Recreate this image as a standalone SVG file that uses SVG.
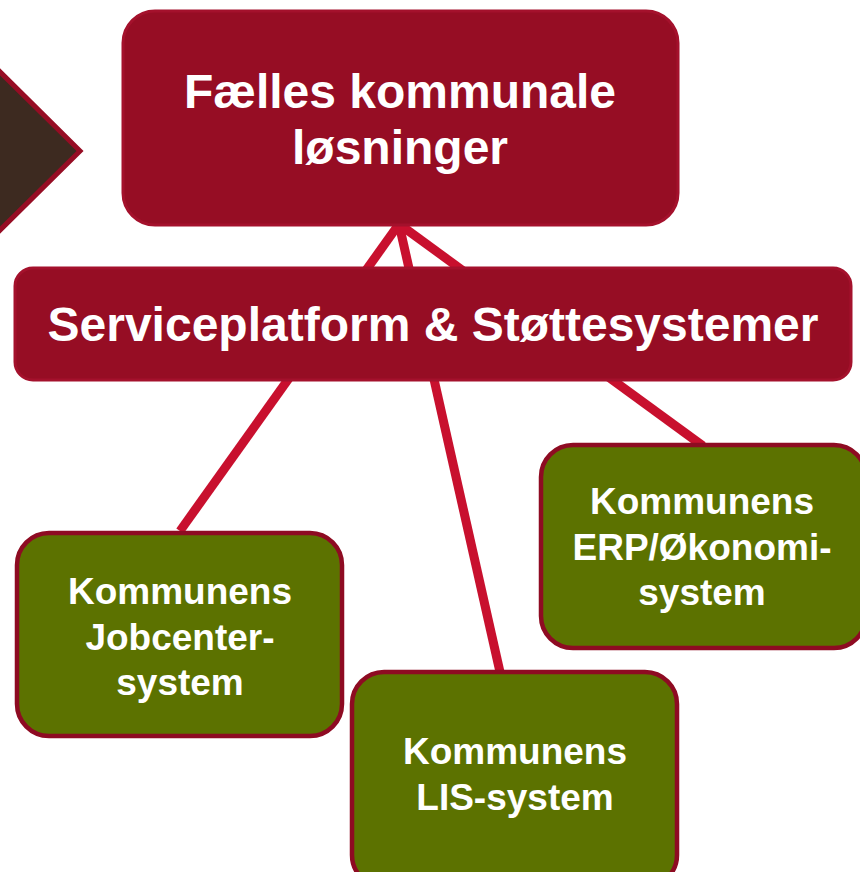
<svg xmlns="http://www.w3.org/2000/svg" width="860" height="872" viewBox="0 0 860 872">
<style>
.t{font-family:"Liberation Sans",Arial,sans-serif;font-weight:bold;fill:#ffffff;text-anchor:middle}
.big{font-size:48px}
.sm{font-size:37px}
.red{fill:#960D24;stroke:#A4112C;stroke-width:3}
.green{fill:#5C7200;stroke:#8E0B22;stroke-width:4.5}
.conn{stroke:#C8102E;stroke-width:9;fill:none}
</style>
<rect width="860" height="872" fill="#ffffff"/>
<g id="arrow">
<polygon points="-10,62 80,151 -10,240" fill="#3D2A20" stroke="#960D24" stroke-width="5"/>
</g>
<g id="connectors">
<line class="conn" x1="399" y1="224" x2="180" y2="531"/>
<line class="conn" x1="399" y1="224" x2="500" y2="672"/>
<line class="conn" x1="399" y1="224" x2="703" y2="446"/>
</g>
<g id="top">
<rect class="red" x="123" y="11" width="555" height="214" rx="32"/>
<text class="t big" x="400" y="108">Fælles kommunale</text>
<text class="t big" x="400" y="164">løsninger</text>
</g>
<g id="service">
<rect class="red" x="15" y="268" width="836" height="112" rx="18"/>
<text class="t big" x="433" y="341">Serviceplatform &amp; Støttesystemer</text>
</g>
<g id="jobcenter">
<rect class="green" x="17" y="533" width="325" height="203" rx="32"/>
<text class="t sm" x="180" y="604">Kommunens</text>
<text class="t sm" x="180" y="650">Jobcenter-</text>
<text class="t sm" x="180" y="695">system</text>
</g>
<g id="lis">
<rect class="green" x="352" y="672" width="325" height="215" rx="32"/>
<text class="t sm" x="515" y="764">Kommunens</text>
<text class="t sm" x="515" y="810">LIS-system</text>
</g>
<g id="erp">
<rect class="green" x="541" y="445" width="325" height="203" rx="32"/>
<text class="t sm" x="702" y="514">Kommunens</text>
<text class="t sm" x="702" y="560">ERP/Økonomi-</text>
<text class="t sm" x="702" y="605">system</text>
</g>
</svg>
